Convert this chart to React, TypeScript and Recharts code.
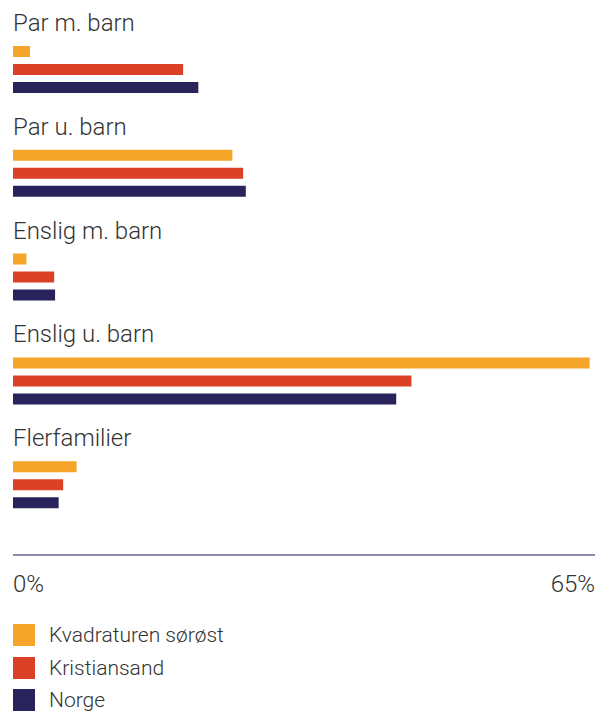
import { Bar, BarChart, Legend, XAxis, YAxis } from "recharts";

const categories = [
  "Par m. barn",
  "Par u. barn",
  "Enslig m. barn",
  "Enslig u. barn",
  "Flerfamilier",
];

const kvadraturen = [1.9, 24.5, 1.5, 64.4, 7.1];
const kristiansand = [19.0, 25.7, 4.6, 44.5, 5.6];
const norge = [20.7, 26.0, 4.7, 42.8, 5.1];

const axisTicks = [0, 65];

const series = [
  { key: "kvadraturen", name: "Kvadraturen sørøst", color: "#F5A529" },
  { key: "kristiansand", name: "Kristiansand", color: "#DA4126" },
  { key: "norge", name: "Norge", color: "#29235C" },
];

const data = categories.map((name, i) => ({
  name,
  kvadraturen: kvadraturen[i],
  kristiansand: kristiansand[i],
  norge: norge[i],
}));

const FONT = "Roboto, 'Helvetica Neue', Arial, sans-serif";
const TEXT = "#333333";
const PLOT_LEFT = 5;

function CategoryTick({ y, payload }: any) {
  return (
    <text
      x={PLOT_LEFT}
      y={y - 39}
      textAnchor="start"
      fontFamily={FONT}
      fontWeight={300}
      fontSize={24}
      fill={TEXT}
    >
      {payload.value}
    </text>
  );
}

function PercentTick({ x, y, payload }: any) {
  const last = payload.value === axisTicks[axisTicks.length - 1];
  return (
    <text
      x={x}
      y={y + 37}
      textAnchor={last ? "end" : "start"}
      fontFamily={FONT}
      fontWeight={300}
      fontSize={24}
      fill={TEXT}
    >
      {`${payload.value}%`}
    </text>
  );
}

function LegendBox() {
  return (
    <div style={{ height: 88 }}>
      {series.map((s) => (
        <div
          key={s.key}
          style={{
            display: "flex",
            alignItems: "center",
            height: 22,
            marginBottom: 10.5,
          }}
        >
          <span
            style={{
              width: 22,
              height: 22,
              background: s.color,
              display: "inline-block",
              marginRight: 14,
            }}
          />
          <span
            style={{
              fontFamily: FONT,
              fontWeight: 300,
              fontSize: 21,
              color: TEXT,
              lineHeight: "22px",
            }}
          >
            {s.name}
          </span>
        </div>
      ))}
    </div>
  );
}

export default function App() {
  return (
    <BarChart
      width={600}
      height={705}
      data={data}
      layout="vertical"
      margin={{ top: 10, right: 13, left: PLOT_LEFT - 1, bottom: 0 }}
      barSize={11}
      barGap={7}
    >
      <XAxis
        type="number"
        domain={[0, 65]}
        ticks={axisTicks}
        interval={0}
        height={70}
        axisLine={{ stroke: "#8E8BAE", strokeWidth: 2 }}
        tickLine={false}
        tickSize={0}
        tickMargin={0}
        tick={<PercentTick />}
      />
      <YAxis
        type="category"
        dataKey="name"
        width={1}
        padding={{ top: 0, bottom: 18 }}
        axisLine={false}
        tickLine={false}
        tick={<CategoryTick />}
        interval={0}
      />
      <Legend
        verticalAlign="bottom"
        align="left"
        height={88}
        wrapperStyle={{ left: PLOT_LEFT, top: 616 }}
        content={() => <LegendBox />}
      />
      {series.map((s) => (
        <Bar
          key={s.key}
          dataKey={s.key}
          name={s.name}
          fill={s.color}
          isAnimationActive={false}
        />
      ))}
    </BarChart>
  );
}
